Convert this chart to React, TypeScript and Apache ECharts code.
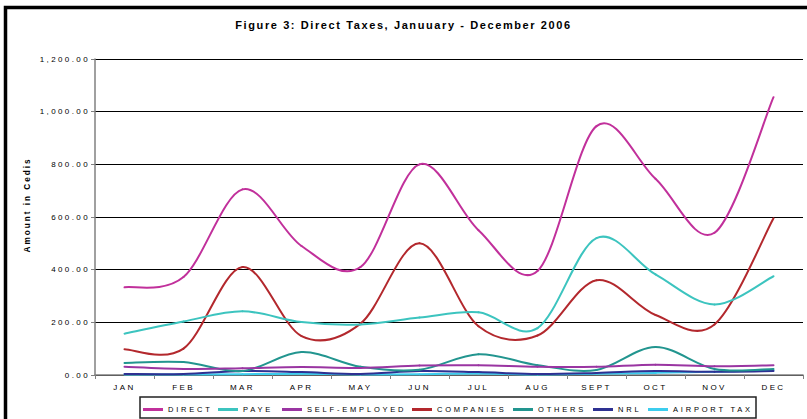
import React, { useEffect, useRef } from "react";
import * as echarts from "echarts";

const months = ["JAN", "FEB", "MAR", "APR", "MAY", "JUN", "JUL", "AUG", "SEPT", "OCT", "NOV", "DEC"];
const direct = [333, 372, 705, 490, 410, 800, 550, 395, 945, 745, 540, 1055];
const paye = [157, 203, 242, 201, 192, 218, 238, 178, 520, 382, 268, 375];
const selfEmployed = [31, 23, 26, 30, 27, 36, 37, 31, 31, 39, 33, 37];
const companies = [98, 100, 410, 148, 195, 500, 185, 150, 360, 228, 192, 595];
const others = [46, 49, 15, 87, 31, 20, 79, 37, 19, 106, 23, 23];
const nrl = [4, 4, 15, 11, 4, 15, 11, 4, 8, 15, 12, 15];
const airportTax = [2, 2, 3, 5, 2, 3, 6, 2, 5, 8, 12, 18];

const seriesNames = ["DIRECT", "PAYE", "SELF-EMPLOYED", "COMPANIES", "OTHERS", "NRL", "AIRPORT TAX"];
const seriesData = [direct, paye, selfEmployed, companies, others, nrl, airportTax];
const seriesColors = ["#C1309B", "#3CC4BF", "#9A35A2", "#B3282D", "#22958F", "#2E3192", "#3CCDEE"];
const legendLefts = [143, 218, 282, 412, 513, 593, 648];

const FONT = "'Liberation Sans', Arial, sans-serif";

function makeSmoothSeries(name: string, arr: number[], color: string, z: number) {
  const n = arr.length;
  return {
    name,
    type: "custom",
    z,
    data: arr.map((v, i) => [i, v]),
    encode: { x: 0, y: 1 },
    itemStyle: { color },
    renderItem: (params: any, api: any) => {
      const i = params.dataIndex;
      if (i >= n - 1) return { type: "group", children: [] };
      const pt = (k: number) => {
        const kk = Math.max(0, Math.min(n - 1, k));
        return api.coord([kk, arr[kk]]);
      };
      const p0 = pt(i - 1);
      const p1 = pt(i);
      const p2 = pt(i + 1);
      const p3 = pt(i + 2);
      return {
        type: "bezierCurve",
        shape: {
          x1: p1[0],
          y1: p1[1],
          x2: p2[0],
          y2: p2[1],
          cpx1: p1[0] + (p2[0] - p0[0]) / 6,
          cpy1: p1[1] + (p2[1] - p0[1]) / 6,
          cpx2: p2[0] - (p3[0] - p1[0]) / 6,
          cpy2: p2[1] - (p3[1] - p1[1]) / 6,
        },
        style: { stroke: color, lineWidth: 2, fill: "none", lineCap: "round" },
      };
    },
  };
}

export default function App() {
  const ref = useRef<HTMLDivElement>(null);
  useEffect(() => {
    if (!ref.current) return;
    const chart = echarts.init(ref.current, null, { renderer: "svg" });
    chart.setOption({
      animation: false,
      backgroundColor: "#fff",
      title: {
        text: "Figure 3: Direct Taxes, Januuary - December 2006",
        left: "center",
        top: 19,
        padding: [0, 0, 0, 9],
        textStyle: { fontSize: 11, fontWeight: "bold", fontFamily: FONT, color: "#000" },
      },
      grid: { left: 95, right: 4, top: 59, bottom: 44, containLabel: false },
      xAxis: {
        type: "category",
        data: months,
        boundaryGap: true,
        axisLine: { lineStyle: { color: "#808080", width: 1.5 } },
        axisTick: { show: true, length: 4, lineStyle: { color: "#808080" } },
        axisLabel: { fontSize: 8, fontFamily: FONT, color: "#000", margin: 8 },
      },
      yAxis: {
        type: "value",
        min: 0,
        max: 1200,
        interval: 200,
        axisLine: { show: true, lineStyle: { color: "#808080", width: 1.5 } },
        axisTick: { show: true, length: 4, lineStyle: { color: "#808080" } },
        axisLabel: {
          fontSize: 8,
          fontFamily: FONT,
          color: "#000",
          margin: 5,
          formatter: (v: number) =>
            v.toLocaleString("en-US", { minimumFractionDigits: 2, maximumFractionDigits: 2 }),
        },
        splitLine: { show: true, lineStyle: { color: "#000", width: 1 } },
      },
      legend: seriesNames.map((n, i) => ({
        data: [n],
        left: legendLefts[i],
        top: 405.5,
        padding: 0,
        itemGap: 0,
        icon: "rect",
        itemWidth: 20,
        itemHeight: 3,
        selectedMode: false,
        textStyle: { fontSize: 7.5, fontFamily: FONT, color: "#000" },
      })),
      graphic: [
        {
          type: "rect",
          shape: { x: 5.5, y: 7.5, width: 1000, height: 1000 },
          style: { fill: "none", stroke: "#000", lineWidth: 3.5 },
          silent: true,
        },
        {
          type: "rect",
          shape: { x: 140, y: 397, width: 616, height: 21 },
          style: { fill: "none", stroke: "#222", lineWidth: 1.5 },
          silent: true,
        },
        {
          type: "text",
          x: 27,
          y: 205,
          rotation: Math.PI / 2,
          style: {
            text: "Amount in Cedis",
            fontSize: 8.2,
            fontWeight: "bold",
            fontFamily: FONT,
            fill: "#000",
            align: "center",
            verticalAlign: "middle",
            textAlign: "center",
            textVerticalAlign: "middle",
          },
        },
      ],
      series: seriesNames.map((n, i) => makeSmoothSeries(n, seriesData[i], seriesColors[i], 10 - i)),
    });
    return () => chart.dispose();
  }, []);
  return (
    <>
      <style>{`
        #chart text[style*="11px"] { letter-spacing: 1.6px; }
        #chart text[style*="8px"] { letter-spacing: 2.4px; }
        #chart text[style*="8.2px"] { letter-spacing: 2px; }
        #chart text[style*="7.5px"] { letter-spacing: 2.8px; }
      `}</style>
      <div
        id="chart"
        ref={ref}
        style={{ position: "absolute", left: 0, top: 0, width: 807, height: 419, background: "#fff" }}
      />
    </>
  );
}
